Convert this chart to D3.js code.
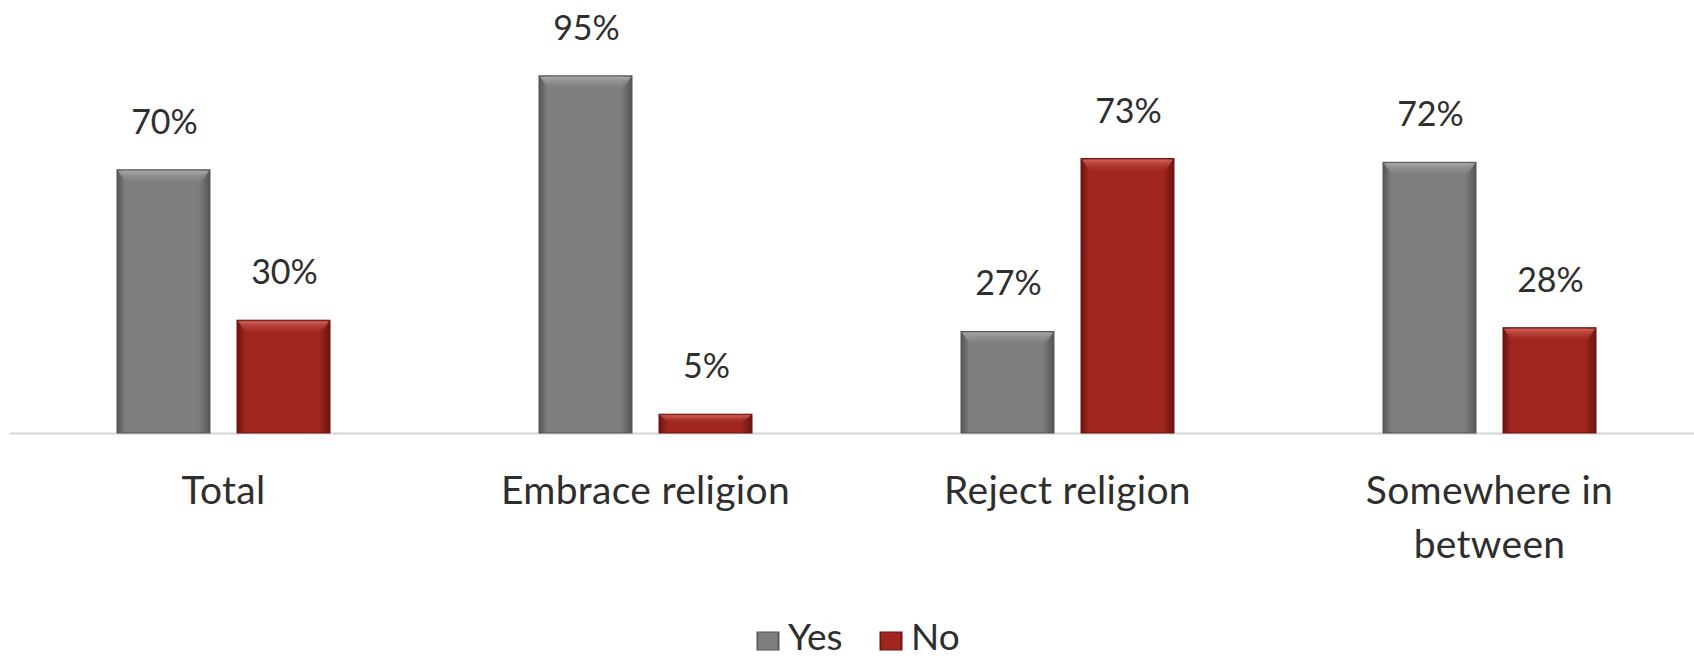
<!DOCTYPE html>
<html>
<head>
<meta charset="utf-8">
<script src="https://cdn.jsdelivr.net/npm/d3@7"></script>
<style>
  html, body { margin: 0; padding: 0; background: #ffffff; }
  svg { display: block; }
  text { font-family: Lato, "Open Sans", sans-serif; fill: #2e2e2e; }
</style>
</head>
<body>
<svg id="chart" width="1694" height="659"></svg>
<script>
// ---- data ----
const categories = ["Total", "Embrace religion", "Reject religion", "Somewhere in between"];
const categoryLines = [["Total"], ["Embrace religion"], ["Reject religion"], ["Somewhere in", "between"]];
const seriesNames = ["Yes", "No"];
const yesValues = [70, 95, 27, 72];
const noValues = [30, 5, 73, 28];

const W = 1694, H = 659;
const svg = d3.select("#chart");

const plotLeft = 12.5, plotRight = 1700.5, baseY = 433, topY = 57;

const x0 = d3.scaleBand().domain(categories).range([plotLeft, plotRight]).paddingInner(0).paddingOuter(0);
const x1 = d3.scaleBand().domain(seriesNames).range([0, x0.bandwidth()]).paddingInner(0.225).paddingOuter(0.8708);
const y = d3.scaleLinear().domain([0, 100]).range([baseY, topY]);

const colors = {
  Yes: { base: "#7e7e7e", dark: "#555555", light: "#ababab" },
  No:  { base: "#a1261f", dark: "#6a1410", light: "#d4665d" }
};

const defs = svg.append("defs");
seriesNames.forEach(s => {
  const c = colors[s];
  const gh = defs.append("linearGradient").attr("id", "gh-" + s).attr("x1", 0).attr("x2", 1).attr("y1", 0).attr("y2", 0);
  gh.append("stop").attr("offset", "0%").attr("stop-color", c.dark);
  gh.append("stop").attr("offset", "9%").attr("stop-color", c.base);
  gh.append("stop").attr("offset", "88%").attr("stop-color", c.base);
  gh.append("stop").attr("offset", "100%").attr("stop-color", c.dark);
  const gt = defs.append("linearGradient").attr("id", "gt-" + s).attr("x1", 0).attr("x2", 0).attr("y1", 0).attr("y2", 1);
  gt.append("stop").attr("offset", "0%").attr("stop-color", c.light).attr("stop-opacity", 0.95);
  gt.append("stop").attr("offset", "100%").attr("stop-color", c.base).attr("stop-opacity", 0);
});

const rows = categories.map((c, i) => ({ cat: c, values: [
  { series: "Yes", value: yesValues[i] },
  { series: "No", value: noValues[i] }
]}));

// axis line
const axis = d3.axisBottom(x0).tickSize(0).tickFormat("");
const axisG = svg.append("g").attr("transform", `translate(0,${baseY + 0.5})`).call(axis);
axisG.select(".domain").attr("stroke", "#d4d4d4").attr("stroke-width", 2).attr("d", `M${plotLeft - 2.5},0H${plotRight}`);

// category labels
axisG.selectAll(".tick").each(function(d, i) {
  const t = d3.select(this).append("text")
    .attr("text-anchor", "middle")
    .attr("font-size", 39)
    .attr("fill", "#333333")
    .style("letter-spacing", "0.3px");
  categoryLines[i].forEach((line, k) => {
    t.append("tspan").attr("x", 0).attr("y", 70 + k * 54.5).text(line);
  });
});

// bars
const groups = svg.append("g").selectAll("g").data(rows).join("g")
  .attr("transform", d => `translate(${x0(d.cat)},0)`);

const bar = groups.selectAll("g.bar").data(d => d.values).join("g").attr("class", "bar");

bar.append("rect")
  .attr("x", d => x1(d.series))
  .attr("y", d => y(d.value))
  .attr("width", x1.bandwidth())
  .attr("height", d => y(0) - y(d.value))
  .attr("fill", d => `url(#gh-${d.series})`)
  .attr("stroke", d => colors[d.series].dark)
  .attr("stroke-width", 1);

bar.append("path")
  .attr("d", d => {
    const bx = x1(d.series), by = y(d.value), bw = x1.bandwidth();
    const h = Math.min(15, (y(0) - y(d.value)) / 2);
    return `M${bx + 1},${by + 1}H${bx + bw - 1}L${bx + bw - 10},${by + h}H${bx + 10}Z`;
  })
  .attr("fill", d => `url(#gt-${d.series})`);

// value labels
bar.append("text")
  .attr("x", d => x1(d.series) + x1.bandwidth() / 2 + 1)
  .attr("y", d => y(d.value) - 36)
  .attr("text-anchor", "middle")
  .attr("font-size", 34)
  .attr("fill", "#333333")
  .text(d => d.value + "%");

// legend
const legend = svg.append("g").attr("transform", "translate(0,650)");
const legendItems = [
  { series: "Yes", x: 757 },
  { series: "No", x: 880 }
];
legendItems.forEach(it => {
  const g = legend.append("g").attr("transform", `translate(${it.x},0)`);
  g.append("rect").attr("x", 0).attr("y", -18).attr("width", 22).attr("height", 18)
    .attr("fill", `url(#gh-${it.series})`).attr("stroke", colors[it.series].dark).attr("stroke-width", 1);
  g.append("text").attr("x", 31).attr("y", 0).attr("font-size", 37).attr("fill", "#333333").text(it.series);
});
</script>
</body>
</html>
